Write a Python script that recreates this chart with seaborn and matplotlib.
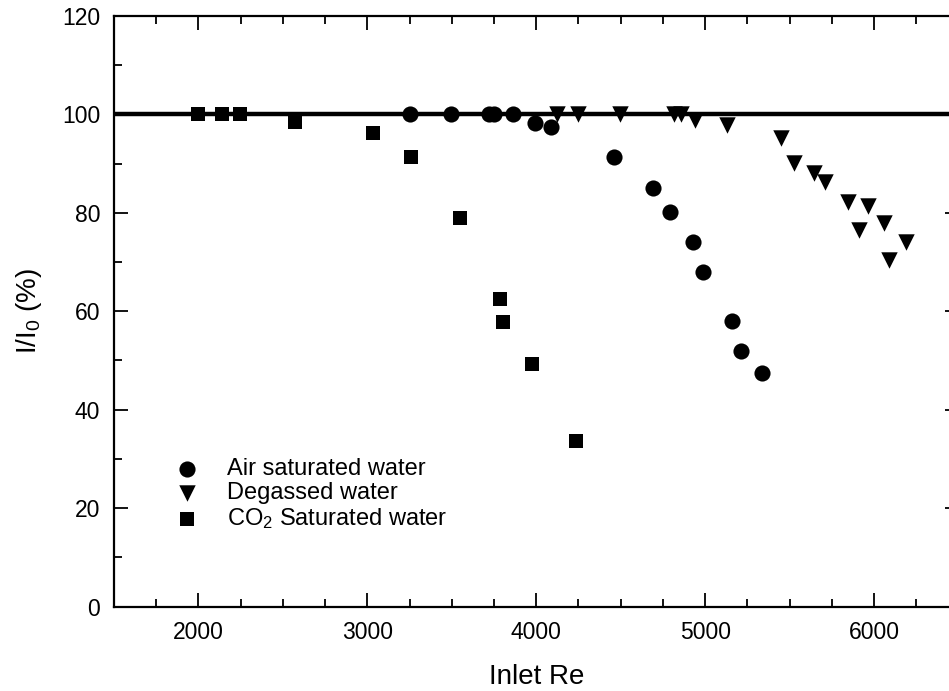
import numpy as np
import pandas as pd
import matplotlib
matplotlib.use("Agg")
import matplotlib.pyplot as plt
import seaborn as sns
from matplotlib.ticker import MultipleLocator

# Air saturated water
air_re = [3251, 3498, 3718, 3748, 3863, 3990, 4089, 4463, 4692, 4793, 4929, 4988, 5160, 5213, 5337]
air_i = [100, 100, 100, 100, 100, 98.2, 97.4, 91.3, 85.0, 80.2, 74.1, 68.0, 58.0, 51.9, 47.5]

# Degassed water
deg_re = [4126, 4245, 4499, 4813, 4855, 4938, 5128, 5451, 5524, 5643, 5708, 5845, 5963, 6058, 5910, 6188, 6087]
deg_i = [100, 100, 100, 100, 100, 98.8, 97.9, 95.1, 90.1, 88.1, 86.3, 82.2, 81.4, 77.9, 76.5, 74.0, 70.4]

# CO2 saturated water
co2_re = [2000, 2142, 2249, 2573, 3033, 3259, 3551, 3788, 3802, 3978, 4236]
co2_i = [100, 100, 100, 98.5, 96.3, 91.4, 79.0, 62.4, 57.8, 49.3, 33.7]

labels = ["Air saturated water", "Degassed water", "CO$_2$ Saturated water"]
x_ticks = [2000, 3000, 4000, 5000, 6000]
y_ticks = [0, 20, 40, 60, 80, 100, 120]

sns.set_theme(style="ticks")
plt.rcParams["font.family"] = ["Liberation Sans", "DejaVu Sans"]
plt.rcParams["mathtext.default"] = "regular"
for k in ["text.color", "axes.labelcolor", "xtick.color", "ytick.color", "axes.edgecolor"]:
    plt.rcParams[k] = "black"

fig = plt.figure(figsize=(9.49, 6.91), dpi=100)
W, H = 949, 691
ax = fig.add_axes([113.9 / W, (H - 606.7) / H, 844.6 / W, 590.9 / H])

ax.axhline(100, color="black", lw=3.2, zorder=1)

df_air = pd.DataFrame({"re": air_re, "i": air_i})
df_deg = pd.DataFrame({"re": deg_re, "i": deg_i})
df_co2 = pd.DataFrame({"re": co2_re, "i": co2_i})

sns.scatterplot(data=df_air, x="re", y="i", marker="o", s=135, color="black",
                linewidth=0, ax=ax, label=labels[0], zorder=3)
sns.scatterplot(data=df_deg, x="re", y="i", marker="v", s=140, color="black",
                linewidth=0, ax=ax, label=labels[1], zorder=3)
sns.scatterplot(data=df_co2, x="re", y="i", marker="s", s=110, color="black",
                linewidth=0, ax=ax, label=labels[2], zorder=3)

ax.set_xlim(1500, 6500)
ax.set_ylim(0, 120)
ax.set_xticks(x_ticks)
ax.set_yticks(y_ticks)
ax.xaxis.set_minor_locator(MultipleLocator(250))
ax.yaxis.set_minor_locator(MultipleLocator(10))
ax.tick_params(which="both", direction="in", top=True, right=True, width=1.3, color="black")
ax.tick_params(which="major", length=10, labelsize=16.5, labelcolor="black")
ax.tick_params(axis="x", which="major", pad=10)
ax.tick_params(axis="y", which="major", pad=10)
ax.tick_params(which="minor", length=6)
for sp in ax.spines.values():
    sp.set_linewidth(1.6)
    sp.set_color("black")

ax.set_xlabel("Inlet Re", fontsize=20, labelpad=15, color="black")
ax.set_ylabel("I/I$_0$ (%)", fontsize=20, labelpad=13, color="black")

leg = ax.legend(loc="upper left", bbox_to_anchor=(0.0723, 0.2517), frameon=False,
                fontsize=17, handlelength=1.0, handletextpad=1.2, labelspacing=0.08,
                borderpad=0, borderaxespad=0)
for t in leg.get_texts():
    t.set_color("black")

fig.savefig("out.png", dpi=100)
